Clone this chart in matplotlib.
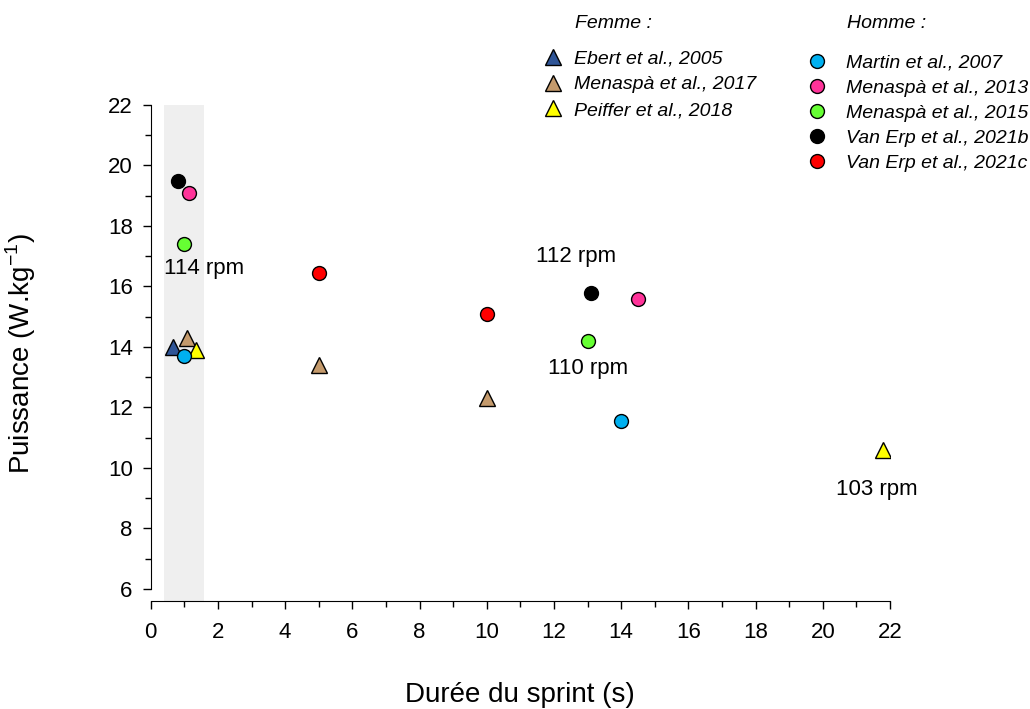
import matplotlib
matplotlib.use('Agg')
import matplotlib.pyplot as plt
from matplotlib.lines import Line2D
from matplotlib.ticker import MultipleLocator

plt.rcParams['font.family'] = ['Liberation Sans', 'DejaVu Sans']

# sprint duration (s) / power (W/kg), one pair of lists per study
# women
ebert_x, ebert_y = [0.66], [14.0]
menaspa17_x, menaspa17_y = [1.07, 5.0, 10.0], [14.3, 13.4, 12.3]
peiffer_x, peiffer_y = [1.35, 21.8], [13.9, 10.6]
# men
martin_x, martin_y = [1.0, 14.0], [13.7, 11.55]
menaspa13_x, menaspa13_y = [1.14, 14.5], [19.1, 15.6]
menaspa15_x, menaspa15_y = [1.0, 13.0], [17.4, 14.2]
vanerp_b_x, vanerp_b_y = [0.82, 13.1], [19.5, 15.8]
vanerp_c_x, vanerp_c_y = [5.0, 10.0], [16.45, 15.1]

# cadence annotations
rpm_text = ['114 rpm', '112 rpm', '110 rpm', '103 rpm']
rpm_x = [1.6, 12.65, 13.0, 21.6]
rpm_y = [16.6, 16.98, 13.3, 9.3]

femme = [('Ebert et al., 2005', ebert_x, ebert_y, '#2f5597'),
         ('Menaspà et al., 2017', menaspa17_x, menaspa17_y, '#c49a6c'),
         ('Peiffer et al., 2018', peiffer_x, peiffer_y, '#ffff00')]
homme = [('Martin et al., 2007', martin_x, martin_y, '#00b0f0'),
         ('Menaspà et al., 2013', menaspa13_x, menaspa13_y, '#ff3399'),
         ('Menaspà et al., 2015', menaspa15_x, menaspa15_y, '#66ff33'),
         ('Van Erp et al., 2021b', vanerp_b_x, vanerp_b_y, '#000000'),
         ('Van Erp et al., 2021c', vanerp_c_x, vanerp_c_y, '#ff0000')]

fig = plt.figure(figsize=(10.3, 7.09), dpi=100)
ax = fig.add_axes([0.1463, 0.1523, 0.7178, 0.6996])

ax.axvspan(0.4, 1.6, color='#efefef', lw=0, zorder=0)

for name, x, y, c in femme:
    ax.plot(x, y, linestyle='none', marker='^', markersize=11, mfc=c, mec='black',
            mew=1, zorder=3)
for name, x, y, c in homme:
    ax.plot(x, y, linestyle='none', marker='o', markersize=10, mfc=c, mec='black',
            mew=1, zorder=3)

for t, x, y in zip(rpm_text, rpm_x, rpm_y):
    ax.text(x, y, t, fontsize=16, ha='center', va='center')

ax.set_xlim(0, 22)
ax.set_ylim(5.6, 22)
ax.spines['top'].set_visible(False)
ax.spines['right'].set_visible(False)
ax.spines['left'].set_bounds(6, 22)
ax.xaxis.set_major_locator(MultipleLocator(2))
ax.xaxis.set_minor_locator(MultipleLocator(1))
ax.yaxis.set_major_locator(MultipleLocator(2))
ax.yaxis.set_minor_locator(MultipleLocator(1))
ax.tick_params(which='major', length=6, width=1, labelsize=16, direction='out')
ax.tick_params(which='minor', length=4, width=1, direction='out')
ax.tick_params(axis='x', pad=9)
ax.tick_params(axis='y', pad=7)

ax.set_xlabel('Durée du sprint (s)', fontsize=20, labelpad=28)
ax.set_ylabel('Puissance (W.kg$^{\\mathregular{-1}}$)', fontsize=20, labelpad=50)

leg_font = {'style': 'italic', 'size': 14}
fh = [Line2D([], [], linestyle='none', marker='^', markersize=11, mfc=c, mec='black')
      for _, _, _, c in femme]
hh = [Line2D([], [], linestyle='none', marker='o', markersize=10, mfc=c, mec='black')
      for _, _, _, c in homme]
leg1 = fig.legend(fh, [f[0] for f in femme], loc='upper left',
                  bbox_to_anchor=(543 / 1030, 1 - 50 / 709), frameon=False,
                  prop=leg_font, handlelength=1.0, handletextpad=0.62,
                  labelspacing=0.42, borderpad=0, borderaxespad=0)
leg2 = fig.legend(hh, [h[0] for h in homme], loc='upper left',
                  bbox_to_anchor=(807 / 1030, 1 - 54 / 709), frameon=False,
                  prop=leg_font, handlelength=1.0, handletextpad=1.0,
                  labelspacing=0.38, borderpad=0, borderaxespad=0)
fig.text(575 / 1030, 1 - 23 / 709, 'Femme :', fontsize=14, style='italic', va='center')
fig.text(847 / 1030, 1 - 23 / 709, 'Homme :', fontsize=14, style='italic', va='center')

fig.savefig('out.png', dpi=100)
